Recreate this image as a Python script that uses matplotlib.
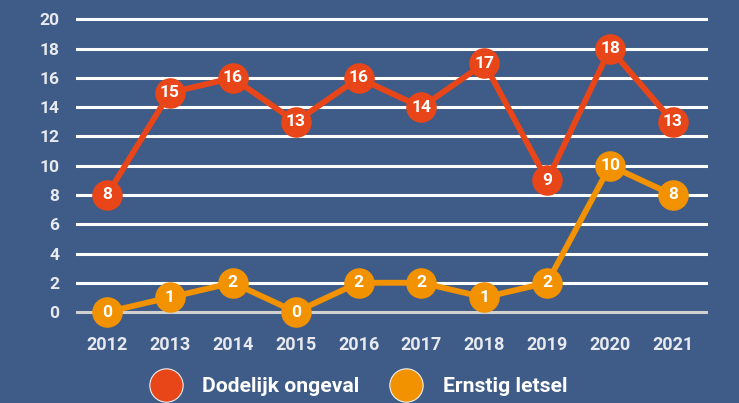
import matplotlib
matplotlib.use("Agg")
import matplotlib.pyplot as plt
from matplotlib.lines import Line2D

years = [2012, 2013, 2014, 2015, 2016, 2017, 2018, 2019, 2020, 2021]
dodelijk = [8, 15, 16, 13, 16, 14, 17, 9, 18, 13]
ernstig = [0, 1, 2, 0, 2, 2, 1, 2, 10, 8]
y_ticks = [0, 2, 4, 6, 8, 10, 12, 14, 16, 18, 20]

bg = '#3e5c87'
rood = '#e84518'
oranje = '#f39200'
tekst = '#e8eaf0'

plt.rcParams['font.family'] = ['Roboto', 'DejaVu Sans']

fig = plt.figure(figsize=(7.39, 4.03), dpi=100)
fig.patch.set_facecolor(bg)
ax = fig.add_axes([76 / 739, 73 / 403, 632 / 739, 325 / 403])
ax.set_facecolor(bg)
ax.set_xlim(2011.507, 2021.557)
ax.set_ylim(-1.23, 20.99)

# horizontale hulplijnen
for t in y_ticks:
    kleur = '#d0d0d0' if t == 0 else 'white'
    ax.axhline(t, color=kleur, lw=2.2, zorder=1)

for spine in ax.spines.values():
    spine.set_visible(False)
ax.set_xticks(years)
ax.set_yticks(y_ticks)
ax.tick_params(length=0, colors=tekst, labelsize=12.5)
ax.tick_params(axis='y', pad=12)
ax.tick_params(axis='x', pad=4)
for lab in ax.get_xticklabels():
    lab.set_fontweight('bold')
    lab.set_fontsize(13)
for lab in ax.get_yticklabels():
    lab.set_fontweight('bold')

for waarden, kleur in [(ernstig, oranje), (dodelijk, rood)]:
    ax.plot(years, waarden, color=kleur, lw=4.2, marker='o', ms=22,
            markeredgewidth=0, zorder=3)
    for x, y in zip(years, waarden):
        ax.text(x, y, str(y), color='white', fontsize=12.5, fontweight='bold',
                ha='center', va='center', zorder=4)

handles = [Line2D([], [], ls='none', marker='o', ms=24, color=rood,
                  markeredgecolor='#f0f0f0', markeredgewidth=0.8),
           Line2D([], [], ls='none', marker='o', ms=24, color=oranje,
                  markeredgecolor='#f0f0f0', markeredgewidth=0.8)]
leg = fig.legend(handles, ['Dodelijk ongeval', 'Ernstig letsel'], ncol=2,
                 loc='center', bbox_to_anchor=(356 / 739, 1 - 387 / 403),
                 frameon=False, handletextpad=0.75, columnspacing=1.2,
                 prop={'size': 15.2, 'weight': 'bold'})
for t in leg.get_texts():
    t.set_color('white')

fig.savefig('out.png', dpi=100, facecolor=bg)
